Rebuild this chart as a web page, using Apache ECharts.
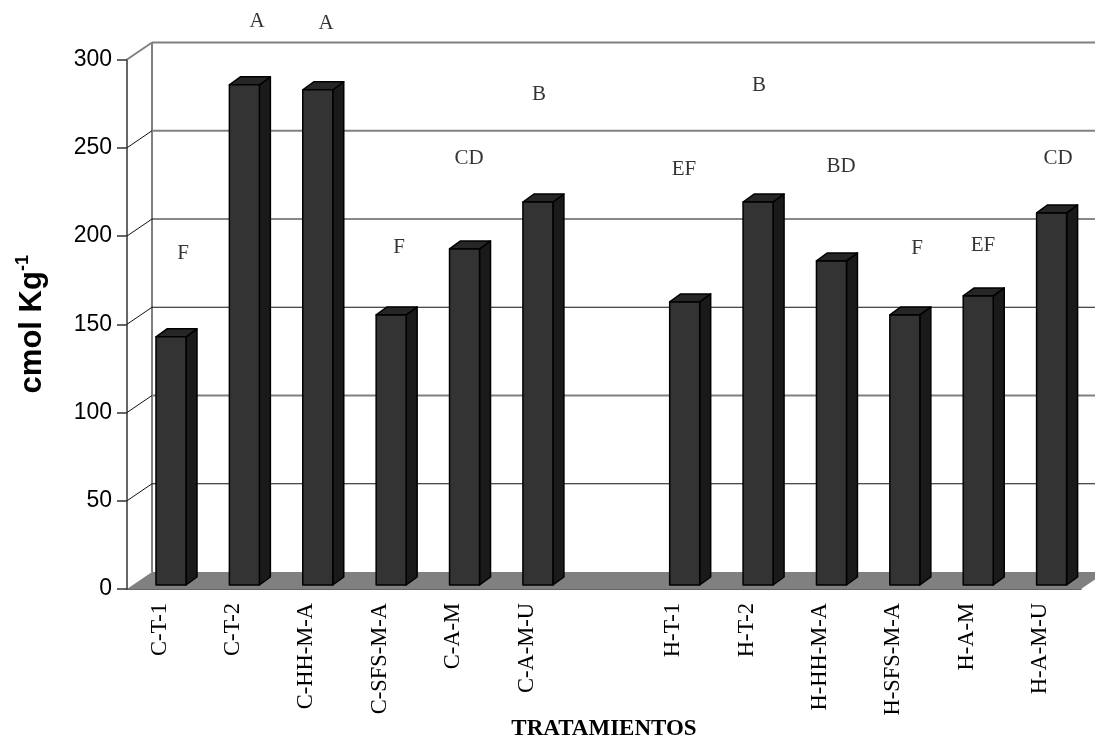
<!DOCTYPE html>
<html>
<head>
<meta charset="utf-8">
<style>
  html, body { margin: 0; padding: 0; background: #fff; }
  #chart { width: 1095px; height: 740px; }
</style>
<script src="https://cdn.jsdelivr.net/npm/echarts@6/dist/echarts.min.js"></script>
</head>
<body>
<div id="chart"></div>
<script>
// tratamientos (the empty one is the gap between the two groups)
const categories = ["C-T-1", "C-T-2", "C-HH-M-A", "C-SFS-M-A", "C-A-M", "C-A-M-U", "",
  "H-T-1", "H-T-2", "H-HH-M-A", "H-SFS-M-A", "H-A-M", "H-A-M-U"];
const values = [140.6, 283.4, 280.6, 153, 190.4, 217, null, 160.4, 217, 183.6, 153, 163.8, 210.8];
const yTicks = [0, 50, 100, 150, 200, 250, 300];
const grayGridTicks = [100, 250, 300];

// significance letters, placed by hand in the original
const letters = ["F", "A", "A", "F", "CD", "B", "EF", "B", "BD", "F", "EF", "CD"];
const letterX = [0.763, 1.772, 2.712, 3.707, 4.661, 5.615, 7.59, 8.613, 9.73, 10.766, 11.665, 12.687];
const letterY = [190.4, 322, 320.8, 193.8, 244.3, 281, 238, 285.7, 239.8, 193.3, 195, 244.3];

// 3d look: wall offset and bar depth in px
const WALL_DX = 25, WALL_DY = 17;
const DEPTH_DX = 11, DEPTH_DY = 8;
const BAR_W = 30;

const chart = echarts.init(document.getElementById("chart"));

const renderWall = (params, api) => {
  const tick = api.value(0);
  const p = api.coord([0, tick]);
  const x0 = p[0] - api.size([1, 0])[0] / 2;
  const y = p[1];
  const xEnd = 1081 + WALL_DX;
  const children = [];
  if (tick === 0) {
    children.push({
      type: "polygon",
      shape: { points: [[x0, y], [x0 + WALL_DX, y - WALL_DY], [xEnd, y - WALL_DY], [1081, y]] },
      style: { fill: "#808080" },
    });
    const top = api.coord([0, 300])[1];
    children.push({
      type: "line",
      shape: { x1: x0 + WALL_DX, y1: top - WALL_DY, x2: x0 + WALL_DX, y2: y - WALL_DY },
      style: { stroke: "#808080", lineWidth: 2 },
    });
  } else {
    const gray = grayGridTicks.includes(tick);
    children.push({
      type: "line",
      shape: { x1: x0, y1: y, x2: x0 + WALL_DX, y2: y - WALL_DY },
      style: { stroke: tick === 300 ? "#808080" : "#111", lineWidth: tick === 300 ? 2 : 1 },
    });
    children.push({
      type: "line",
      shape: { x1: x0 + WALL_DX, y1: y - WALL_DY, x2: xEnd, y2: y - WALL_DY },
      style: { stroke: gray ? "#808080" : "#111", lineWidth: gray ? 2 : 1 },
    });
  }
  return { type: "group", children };
};

const renderBar = (params, api) => {
  if (api.value(1) == null || isNaN(api.value(1))) return null;
  const top = api.coord([api.value(0), api.value(1)]);
  const base = api.coord([api.value(0), 0]);
  // box sits in the middle of the floor depth
  const l = top[0] + 7.3 - BAR_W / 2;
  const r = l + BAR_W;
  const t = top[1] - 4;
  const b = base[1] - 4;
  const line = { stroke: "#000", lineWidth: 1.5, lineJoin: "round" };
  return {
    type: "group",
    children: [
      {
        type: "polygon",
        shape: { points: [[r, t], [r + DEPTH_DX, t - DEPTH_DY], [r + DEPTH_DX, b - DEPTH_DY], [r, b]] },
        style: { fill: "#1a1a1a", ...line },
      },
      {
        type: "polygon",
        shape: { points: [[l, t], [l + DEPTH_DX, t - DEPTH_DY], [r + DEPTH_DX, t - DEPTH_DY], [r, t]] },
        style: { fill: "#262626", ...line },
      },
      {
        type: "rect",
        shape: { x: l, y: t, width: BAR_W, height: b - t },
        style: { fill: "#333333", ...line },
      },
    ],
  };
};

chart.setOption({
  animation: false,
  backgroundColor: "#fff",
  grid: { left: 127, right: 14, top: 59.5, bottom: 151, outerBoundsMode: "none" },
  xAxis: [
    {
      type: "category",
      data: categories,
      name: "TRATAMIENTOS",
      nameLocation: "middle",
      nameGap: 129,
      nameMoveOverlap: false,
      nameTextStyle: { fontFamily: "Liberation Serif", fontWeight: "bold", fontSize: 23, color: "#000" },
      axisLine: { lineStyle: { color: "#333", width: 1.5 } },
      axisTick: { length: 11, lineStyle: { color: "#333", width: 1.5 } },
      axisLabel: {
        rotate: 90,
        margin: 14,
        interval: 0,
        verticalAlign: "bottom",
        lineHeight: 8,
        fontFamily: "Liberation Serif",
        fontSize: 22.5,
        color: "#000",
      },
    },
    { type: "value", min: 0, max: 13, show: false },
  ],
  yAxis: {
    type: "value",
    min: 0,
    max: 300,
    interval: 50,
    name: "{b|cmol Kg}{s|-1}",
    nameLocation: "middle",
    nameRotate: 90,
    nameGap: 77,
    nameMoveOverlap: false,
    nameTextStyle: {
      rich: {
        b: { fontFamily: "Liberation Sans", fontWeight: "bold", fontSize: 31, color: "#000", lineHeight: 36 },
        s: { fontFamily: "Liberation Sans", fontWeight: "bold", fontSize: 18, color: "#000", verticalAlign: "top", lineHeight: 36 },
      },
    },
    splitLine: { show: false },
    axisLine: { show: true, lineStyle: { color: "#333", width: 1.5 } },
    axisTick: { show: true, length: 10, lineStyle: { color: "#333", width: 1.5 } },
    axisLabel: { margin: 15, fontFamily: "Liberation Sans", fontSize: 23, color: "#000" },
  },
  series: [
    {
      type: "custom",
      silent: true,
      z: 1,
      encode: { y: 0 },
      data: yTicks.map((t) => [t]),
      renderItem: renderWall,
    },
    {
      type: "custom",
      z: 3,
      encode: { x: 0, y: 1 },
      data: values.map((v, i) => [i, v]),
      renderItem: renderBar,
    },
    {
      type: "scatter",
      xAxisIndex: 1,
      z: 4,
      symbolSize: 0,
      clip: false,
      silent: true,
      data: letters.map((l, i) => ({ value: [letterX[i], letterY[i]], name: l })),
      label: {
        show: true,
        position: "inside",
        offset: [0, 1],
        formatter: (p) => p.name,
        fontFamily: "Liberation Serif",
        fontSize: 21,
        color: "#000",
      },
    },
  ],
});
</script>
</body>
</html>
